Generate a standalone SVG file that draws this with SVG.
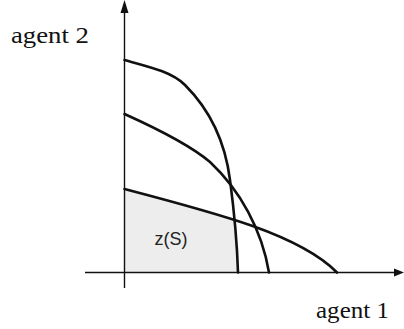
<svg xmlns="http://www.w3.org/2000/svg" width="404" height="329" viewBox="0 0 404 329">
<style>
.axis{stroke:#111;stroke-width:1.4;fill:none}
.curve{stroke:#111;stroke-width:2.6;fill:none;stroke-linecap:round}
.serif{font-family:"Liberation Serif","Times New Roman",serif;font-size:23px;fill:#111}
.sans{font-family:"Liberation Sans",Arial,sans-serif;font-size:18px;fill:#222}
</style>
<defs>
<clipPath id="underA">
<path d="M124.5,60 C150,67 172,72 185,85 C210,110 225,140 230,180 C234,210 237,240 238,272.5 L124.5,272.5 Z"/>
</clipPath>
</defs>
<g id="region">
<path d="M124.5,189 C220,214 300,235 337,272.5 L124.5,272.5 Z" fill="#ededed" clip-path="url(#underA)"/>
<text class="sans" x="171" y="245" text-anchor="middle">z(S)</text>
</g>
<g id="connectors">
<line class="axis" x1="85" y1="272.5" x2="396" y2="272.5"/>
<line class="axis" x1="124.5" y1="288" x2="124.5" y2="12"/>
<polygon points="404,272.5 394,268.5 394,276.5" fill="#111"/>
<polygon points="124.5,0 120.5,13 128.5,13" fill="#111"/>
</g>
<g id="curveA"><path class="curve" d="M124.5,60 C150,67 172,72 185,85 C210,110 225,140 230,180 C234,210 237,240 238,272.5"/></g>
<g id="curveB"><path class="curve" d="M124.5,114 C160,130 190,145 210,162 C240,190 262,230 269,272.5"/></g>
<g id="curveC"><path class="curve" d="M124.5,189 C220,214 300,235 337,272.5"/></g>
<g id="labels">
<text class="serif" x="11" y="43" textLength="78" lengthAdjust="spacingAndGlyphs">agent 2</text>
<text class="serif" x="316" y="318" textLength="73" lengthAdjust="spacingAndGlyphs">agent 1</text>
</g>
</svg>
